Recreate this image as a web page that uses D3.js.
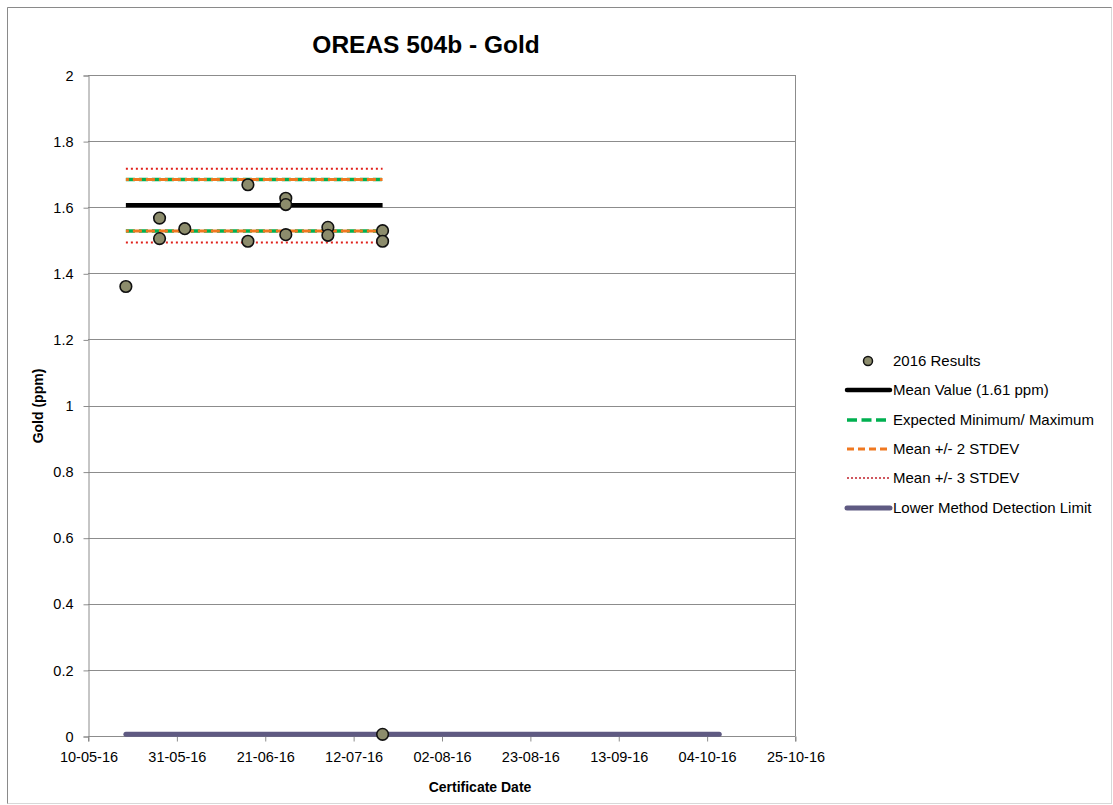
<!DOCTYPE html>
<html><head><meta charset="utf-8">
<script src="https://cdn.jsdelivr.net/npm/d3@7"></script>
<style>
body{margin:0;background:#fff;}
text{font-family:"Liberation Sans",Arial,sans-serif;}
</style></head>
<body><svg id="c" width="1113" height="805"></svg>
<script>
// ---- data ----
const resultDates = ["2016-05-19","2016-05-27","2016-05-27","2016-06-02","2016-06-17","2016-06-17","2016-06-26","2016-06-26","2016-06-26","2016-07-06","2016-07-06","2016-07-19","2016-07-19","2016-07-19"];
const resultValues = [1.36,1.567,1.505,1.535,1.668,1.497,1.627,1.608,1.517,1.539,1.515,1.529,1.497,0.005];
const lineStart = "2016-05-19", lineEnd = "2016-07-19";
const meanValue = 1.606;
const expectedMinMax = [1.528, 1.684];
const twoSD = [1.528, 1.684];
const threeSD = [1.493, 1.716];
const ldlDates = ["2016-05-19","2016-10-07"];
const ldlValue = 0.005;
const xTickDates = ["2016-05-10","2016-05-31","2016-06-21","2016-07-12","2016-08-02","2016-08-23","2016-09-13","2016-10-04","2016-10-25"];
const yTicks = [0,0.2,0.4,0.6,0.8,1,1.2,1.4,1.6,1.8,2];
const legendLabels = ["2016 Results","Mean Value (1.61 ppm)","Expected Minimum/ Maximum","Mean +/- 2 STDEV","Mean +/- 3 STDEV","Lower Method Detection Limit"];

const parse = d3.utcParse("%Y-%m-%d");
const fmt = d3.utcFormat("%d-%m-%y");
const svg = d3.select("#c");
const L=88,R=795,T=75,B=736;
const x = d3.scaleUtc().domain([parse(xTickDates[0]), parse(xTickDates[xTickDates.length-1])]).range([L,R]);
const y = d3.scaleLinear().domain([0,2]).range([B,T]);

// outer border
svg.append("rect").attr("x",7.5).attr("y",7.5).attr("width",1104).attr("height",796).attr("fill","#fff").attr("stroke","#d8d8d8").attr("stroke-width",1);
svg.append("path").attr("d","M7.5,803.5V7.5H1111.5").attr("fill","none").attr("stroke","#8a8a8a");

// grid
svg.append("g").selectAll("line").data(yTicks).join("line")
  .attr("x1",L).attr("x2",R).attr("y1",d=>Math.round(y(d))+0.5).attr("y2",d=>Math.round(y(d))+0.5)
  .attr("stroke","#8c8c8c").attr("stroke-width",1);
svg.append("line").attr("x1",R+0.5).attr("x2",R+0.5).attr("y1",T).attr("y2",B).attr("stroke","#8c8c8c");

// axes
const yAxis = d3.axisLeft(y).tickValues(yTicks).tickFormat(d3.format("")).tickSize(5).tickPadding(10);
const gy = svg.append("g").attr("transform",`translate(${L+0.5},0.5)`).call(yAxis);
const xAxis = d3.axisBottom(x).tickValues(xTickDates.map(parse)).tickFormat(fmt).tickSize(5).tickPadding(10);
const gx = svg.append("g").attr("transform",`translate(0.5,${B+0.5})`).call(xAxis);
[gx,gy].forEach(g=>{g.select(".domain").attr("stroke","#8c8c8c");g.selectAll(".tick line").attr("stroke","#8c8c8c");g.selectAll("text").attr("font-size",14.5).attr("fill","#000").attr("font-family","Liberation Sans, Arial");});
gx.select(".domain").attr("d",`M${L},5V0H${R}V5`);

// reference lines
const x0 = x(parse(lineStart)), x1 = x(parse(lineEnd));
function hline(v,color,w,dash,offset){
  svg.append("line").attr("x1",x0).attr("x2",x1).attr("y1",y(v)).attr("y2",y(v))
   .attr("stroke",color).attr("stroke-width",w).attr("stroke-dasharray",dash||null).attr("stroke-dashoffset",offset||0);
}
threeSD.forEach(v=>hline(v,"#e0201b",2,"2,3"));
expectedMinMax.forEach(v=>hline(v,"#00b050",3.5,"9,4"));
twoSD.forEach(v=>hline(v,"#f07820",3,"9,4",6));
hline(meanValue,"#000",4.5);
svg.append("line").attr("x1",x(parse(ldlDates[0]))).attr("x2",x(parse(ldlDates[1])))
  .attr("y1",y(ldlValue)).attr("y2",y(ldlValue)).attr("stroke","#5f5a82").attr("stroke-width",5).attr("stroke-linecap","round");

// points
svg.append("g").selectAll("circle").data(resultValues).join("circle")
  .attr("cx",(d,i)=>x(parse(resultDates[i]))).attr("cy",d=>y(d)).attr("r",5.8)
  .attr("fill","#8c8c6c").attr("stroke","#111").attr("stroke-width",1.6);

// title
svg.append("text").attr("x",426).attr("y",53).attr("text-anchor","middle").attr("font-size",24.5).attr("font-weight","bold").text("OREAS 504b - Gold");
svg.append("text").attr("transform","translate(43,406) rotate(-90)").attr("text-anchor","middle").attr("font-size",14).attr("font-weight","bold").text("Gold (ppm)");
svg.append("text").attr("x",480).attr("y",792).attr("text-anchor","middle").attr("font-size",14).attr("font-weight","bold").text("Certificate Date");

// legend
const lg = svg.append("g");
const ly = [361,390,420,449,478,508];
legendLabels.forEach((t,i)=>{
  const yy = ly[i];
  if(i===0){ lg.append("circle").attr("cx",868).attr("cy",yy).attr("r",4.5).attr("fill","#8c8c6c").attr("stroke","#111").attr("stroke-width",1.5); }
  else {
    const st = [null,["#000",4.5,null],["#00b050",3.5,"10,4.5"],["#f07820",3,"7,4"],["#c0202b",1.5,"2,2"],["#5f5a82",5,null]][i];
    lg.append("line").attr("x1",847).attr("x2",890).attr("y1",yy).attr("y2",yy).attr("stroke",st[0]).attr("stroke-width",st[1]).attr("stroke-dasharray",st[2]).attr("stroke-linecap",i===1||i===5?"round":null);
  }
  lg.append("text").attr("x",893).attr("y",yy+5).attr("font-size",15).text(t);
});
</script></body></html>
